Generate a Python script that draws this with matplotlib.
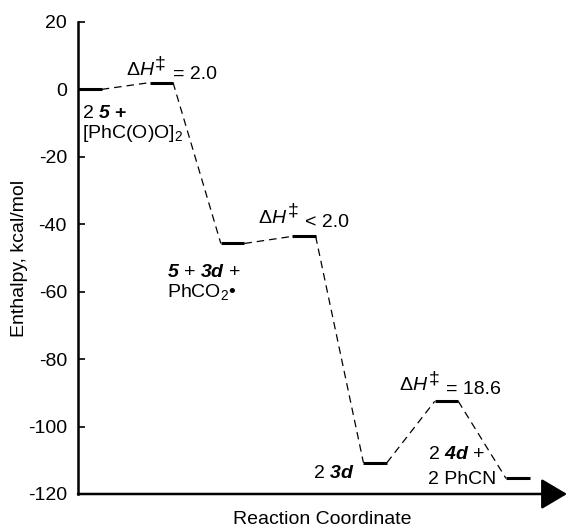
import matplotlib
matplotlib.use("Agg")
import matplotlib.pyplot as plt

plt.rcParams['font.family'] = ['Liberation Sans', 'DejaVu Sans']
plt.rcParams['mathtext.fontset'] = 'custom'
plt.rcParams['mathtext.rm'] = 'Liberation Sans'
plt.rcParams['mathtext.it'] = 'Liberation Sans:italic'
plt.rcParams['mathtext.bf'] = 'Liberation Sans:italic:bold'
plt.rcParams['mathtext.sf'] = 'Liberation Sans:bold'

# === データ ===
steps = [0, 1, 2, 3, 4, 5, 6]
enthalpy = [0.0, 2.0, -45.7, -43.6, -110.7, -92.5, -115.4]
yticks = [20, 0, -20, -40, -60, -80, -100, -120]
barriers = ["= 2.0", "< 2.0", "= 18.6"]

half = 0.165
fs = 14

fig = plt.figure(figsize=(5.67, 5.31), dpi=100)
ax = fig.add_axes([0.1376, 0.0697, 0.8624, 0.889])

# levels
for x, e in zip(steps, enthalpy):
    ax.plot([x - half, x + half], [e, e], color='black', lw=2.2,
            solid_capstyle='butt')

# dashed connectors
for i in range(len(steps) - 1):
    ax.plot([steps[i] + half, steps[i + 1] - half],
            [enthalpy[i], enthalpy[i + 1]],
            color='black', lw=0.9, ls=(0, (6, 4)))

ax.set_xlim(-0.168, 6.69)
ax.set_ylim(-120, 20)
ax.set_yticks(yticks)
ax.set_yticklabels([str(t) for t in yticks], fontsize=fs)
ax.tick_params(axis='y', direction='in', length=5, width=1.2, pad=8)
ax.set_xticks([])

for s in ['top', 'right', 'bottom']:
    ax.spines[s].set_visible(False)
ax.spines['left'].set_linewidth(1.8)

# 横軸の矢印
ax.annotate('', xy=(6.69, -120), xytext=(-0.168, -120),
            arrowprops=dict(arrowstyle='-|>,head_length=1.6,head_width=0.95',
                            lw=1.8, color='black', mutation_scale=10,
                            shrinkA=0, shrinkB=0),
            annotation_clip=False)

ax.set_ylabel("Enthalpy, kcal/mol", fontsize=fs)
ax.yaxis.set_label_coords(-0.102, 0.5)
ax.set_xlabel("Reaction Coordinate", fontsize=fs, labelpad=12)

kw = dict(fontsize=fs, va='baseline', ha='left')


def barrier_label(x, y, rest):
    # ΔH + 高めの ‡ + 値
    t = ax.text(x, y, r'$\Delta\mathit{H}$', **kw)
    ax.annotate('‡', xy=(1, 0), xycoords=t, xytext=(0.3, 8),
                textcoords='offset points', fontsize=fs, va='baseline', ha='left')
    ax.annotate(rest, xy=(1, 0), xycoords=t, xytext=(13, 0),
                textcoords='offset points', fontsize=fs, va='baseline', ha='left')


barrier_label(0.50, 4.2, barriers[0])
barrier_label(2.36, -39.5, barriers[1])
barrier_label(4.33, -89.3, barriers[2])

ax.text(-0.11, -8.6, r'2 $\mathbf{5}$ $\mathsf{+}$', **kw)
ax.text(-0.11, -14.5, r'[PhC(O)O]$_2$', **kw)
ax.text(1.08, -55.5, r'$\mathbf{5}$ + $\mathbf{3d}$ +', **kw)
ax.text(1.08, -61.7, r'PhCO$_2$•', **kw)
ax.text(3.13, -115.4, r'2 $\mathbf{3d}$', **kw)
ax.text(4.74, -109.5, r'2 $\mathbf{4d}$ +', **kw)
ax.text(4.74, -116.9, r'2 PhCN', **kw)

plt.savefig("out.png", dpi=100)
